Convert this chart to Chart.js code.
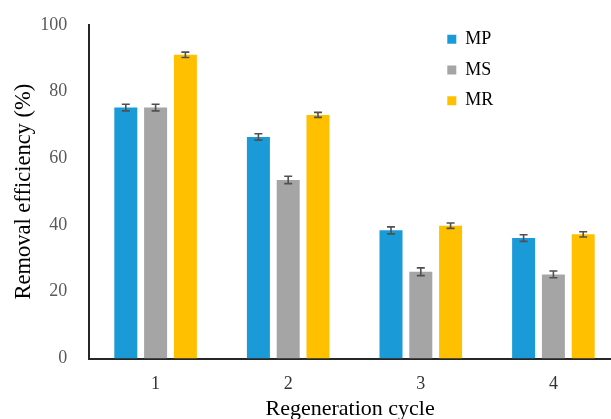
<!DOCTYPE html>
<html><head><meta charset="utf-8">
<script src="https://cdn.jsdelivr.net/npm/chart.js@4/dist/chart.umd.min.js"></script>
<style>html,body{margin:0;padding:0;background:#fff;overflow:hidden;} canvas{display:block;}</style>
</head><body>
<canvas id="c" width="611" height="419"></canvas>
<script>
// ---- data ----
const categories = [1, 2, 3, 4];
const seriesNames = ['MP', 'MS', 'MR'];
const mpValues = [75.2, 66.4, 38.4, 36.1];
const msValues = [75.2, 53.5, 26.0, 25.2];
const mrValues = [91.0, 73.0, 39.8, 37.2];
const mpErrors = [1.0, 0.95, 1.05, 1.0];
const msErrors = [1.0, 1.1, 1.15, 1.0];
const mrErrors = [0.8, 0.75, 0.8, 0.8];
const yTickValues = [0, 20, 40, 60, 80, 100];
const xTitle = 'Regeneration cycle';
const yTitle = 'Removal efficiency (%)';

// ---- style ----
const FONT = "'Liberation Serif', 'Times New Roman', serif";
const colors = ['#1a9bd7', '#a5a5a5', '#ffc000'];
const seriesValues = [mpValues, msValues, mrValues];
const seriesErrors = [mpErrors, msErrors, mrErrors];

const errorBars = {
  id: 'errorBars',
  afterDatasetsDraw(chart) {
    const ctx = chart.ctx;
    const ys = chart.scales.y;
    ctx.save();
    ctx.strokeStyle = '#505050';
    ctx.lineWidth = 1.6;
    seriesValues.forEach((vals, d) => {
      const meta = chart.getDatasetMeta(d);
      meta.data.forEach((bar, i) => {
        const e = seriesErrors[d][i];
        const t = ys.getPixelForValue(vals[i] + e);
        const b = ys.getPixelForValue(vals[i] - e);
        const x = bar.x;
        ctx.beginPath();
        ctx.moveTo(x, t); ctx.lineTo(x, b);
        ctx.moveTo(x - 4, t); ctx.lineTo(x + 4, t);
        ctx.moveTo(x - 4, b); ctx.lineTo(x + 4, b);
        ctx.stroke();
      });
    });
    ctx.restore();
  }
};

const legendPlace = {
  id: 'legendPlace',
  beforeDraw(chart) {
    const lg = chart.legend;
    if (!lg) return;
    const w = lg.right - lg.left, h = lg.bottom - lg.top;
    lg.left = 434.6; lg.top = 17.6;
    lg.right = lg.left + w; lg.bottom = lg.top + h;
  }
};

const xSpan = 132.6; // px per category (for axis extent)
new Chart(document.getElementById('c'), {
  type: 'bar',
  data: {
    labels: categories,
    datasets: seriesNames.map((n, d) => ({
      label: n,
      data: seriesValues[d],
      backgroundColor: colors[d],
      borderWidth: 0,
      categoryPercentage: 0.674,
      barPercentage: 0.772
    }))
  },
  options: {
    responsive: false,
    animation: false,
    devicePixelRatio: 1,
    layout: { padding: { top: 23.5, right: 0, left: 0, bottom: 0 } },
    plugins: {
      tooltip: { enabled: false },
      legend: {
        position: 'chartArea',
        fullSize: false,
        align: 'start',
        labels: {
          boxWidth: 9, boxHeight: 9, padding: 12.7,
          color: '#000',
          font: { family: FONT, size: 18 }
        }
      }
    },
    scales: {
      x: {
        type: 'linear',
        offset: false,
        min: 0.5,
        max: 0.5 + (611 - 89.3) / xSpan,
        grid: { display: false },
        border: { display: true, color: '#262626', width: 2 },
        afterBuildTicks: (s) => { s.ticks = categories.map(v => ({ value: v })); },
        afterFit: (s) => { s.height = 60.5; },
        ticks: {
          padding: 7,
          color: '#333',
          font: { family: FONT, size: 18 },
          callback: (v) => String(v)
        },
        title: {
          display: true, text: xTitle, color: '#000',
          font: { family: FONT, size: 22 },
          padding: { top: 0, bottom: -3 }
        }
      },
      y: {
        min: 0, max: 100,
        grid: { display: false },
        border: { display: true, color: '#262626', width: 2 },
        afterBuildTicks: (s) => { s.ticks = yTickValues.map(v => ({ value: v })); },
        afterFit: (s) => { s.width = 89.3; },
        ticks: {
          padding: 14,
          color: '#595959',
          font: { family: FONT, size: 18 }
        },
        title: {
          display: true, text: yTitle, color: '#000',
          font: { family: FONT, size: 22.5 },
          padding: { top: 11, bottom: 0 }
        }
      }
    }
  },
  plugins: [errorBars, legendPlace]
});
</script>
</body></html>
